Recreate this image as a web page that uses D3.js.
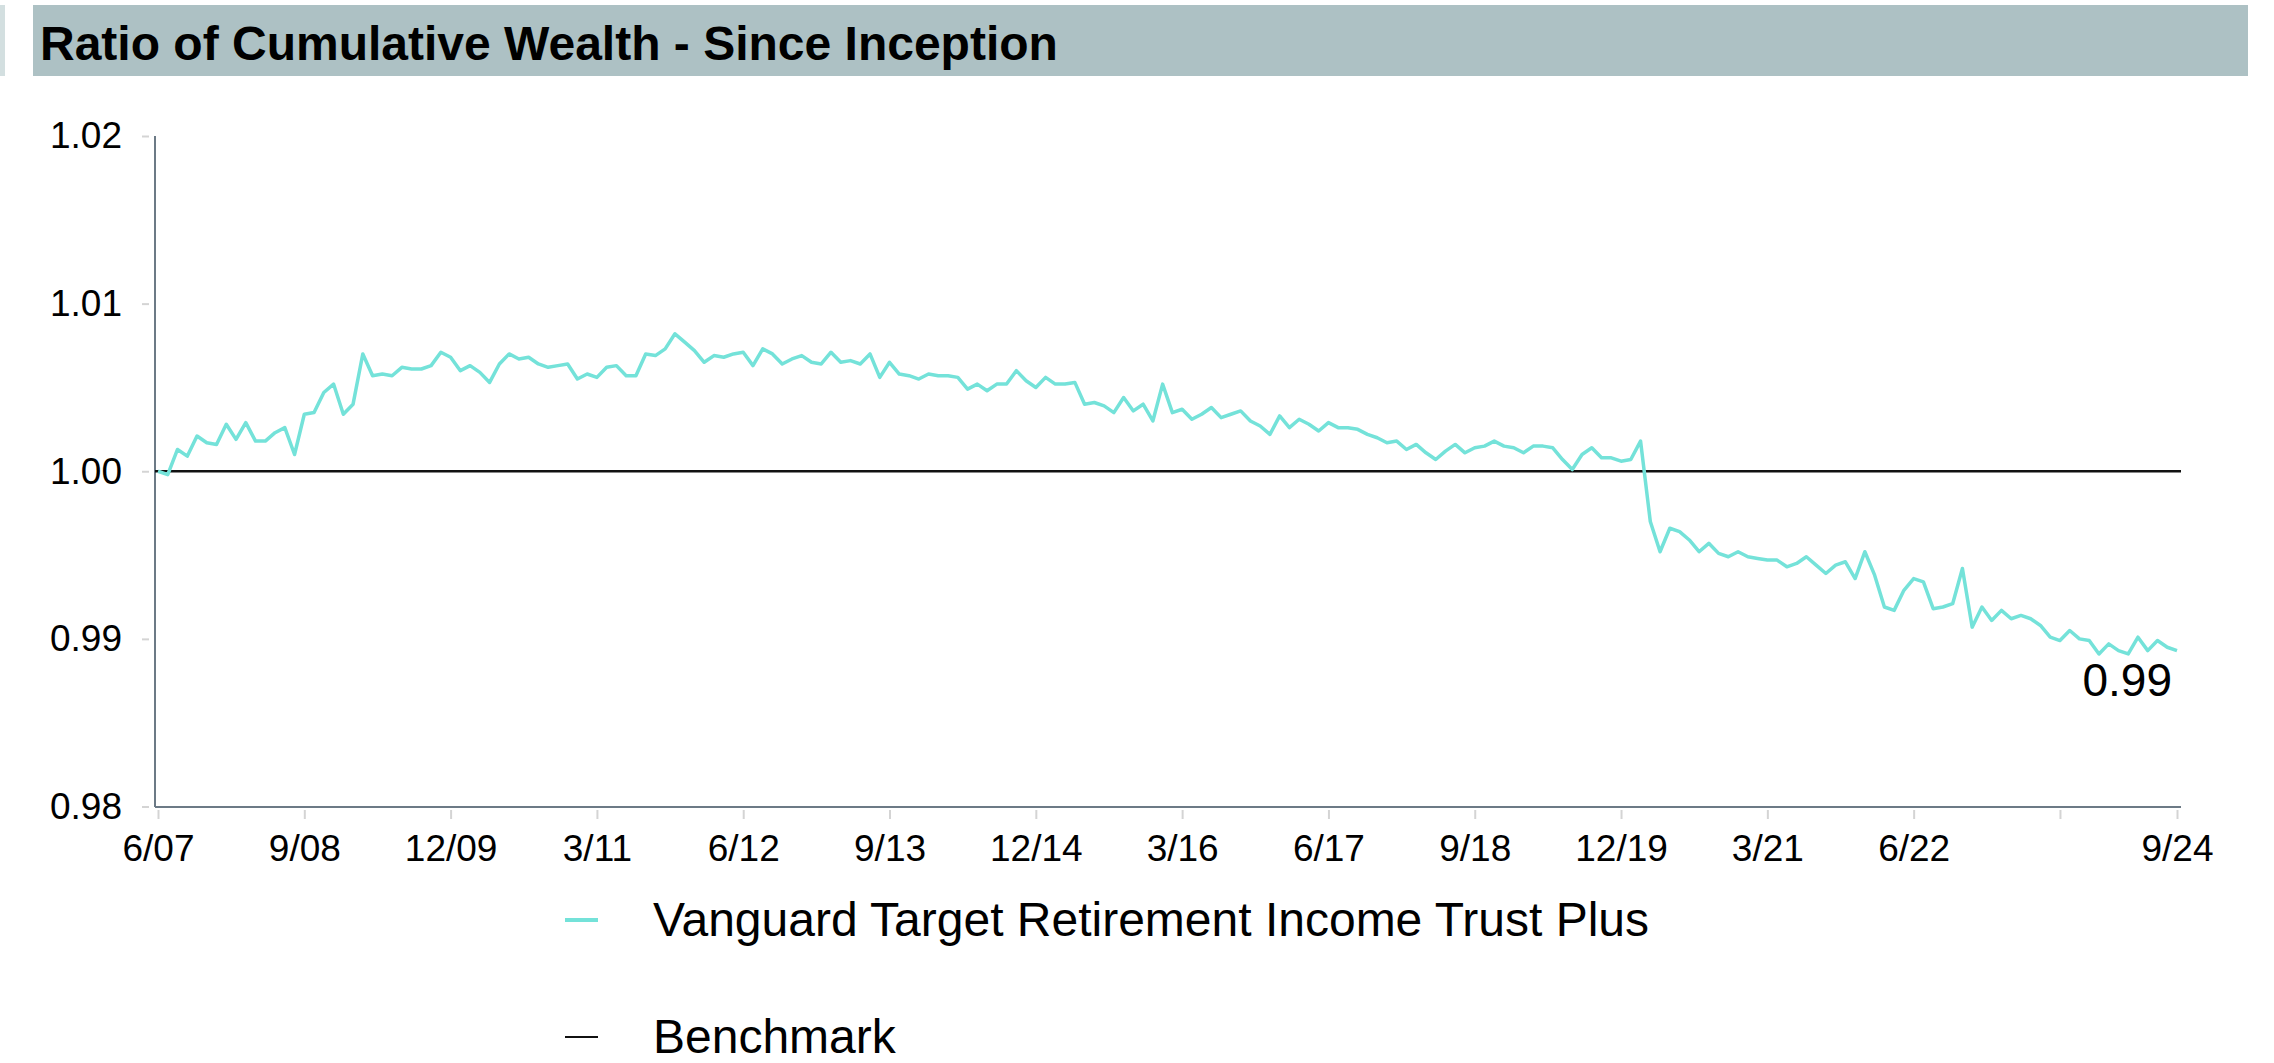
<!DOCTYPE html>
<html>
<head>
<meta charset="utf-8">
<script src="https://cdn.jsdelivr.net/npm/d3@7"></script>
<style>
  body { margin: 0; background: #fff; }
  text { font-family: "Liberation Sans", Arial, Helvetica, sans-serif; }
</style>
</head>
<body>
<div id="chart_area"></div>
<script>
var chartTitle = "Ratio of Cumulative Wealth - Since Inception";
var seriesNames = ["Vanguard Target Retirement Income Trust Plus", "Benchmark"];

// monthly ratio, 6/07 .. 9/24
var fundRatio = [
  1.0000, 0.9998, 1.0013, 1.0009, 1.0021, 1.0017, 1.0016, 1.0028, 1.0019, 1.0029,
  1.0018, 1.0018, 1.0023, 1.0026, 1.0010, 1.0034, 1.0035, 1.0047, 1.0052, 1.0034,
  1.0040, 1.0070, 1.0057, 1.0058, 1.0057, 1.0062, 1.0061, 1.0061, 1.0063, 1.0071,
  1.0068, 1.0060, 1.0063, 1.0059, 1.0053, 1.0064, 1.0070, 1.0067, 1.0068, 1.0064,
  1.0062, 1.0063, 1.0064, 1.0055, 1.0058, 1.0056, 1.0062, 1.0063, 1.0057, 1.0057,
  1.0070, 1.0069, 1.0073, 1.0082, 1.0077, 1.0072, 1.0065, 1.0069, 1.0068, 1.0070,
  1.0071, 1.0063, 1.0073, 1.0070, 1.0064, 1.0067, 1.0069, 1.0065, 1.0064, 1.0071,
  1.0065, 1.0066, 1.0064, 1.0070, 1.0056, 1.0065, 1.0058, 1.0057, 1.0055, 1.0058,
  1.0057, 1.0057, 1.0056, 1.0049, 1.0052, 1.0048, 1.0052, 1.0052, 1.0060, 1.0054,
  1.0050, 1.0056, 1.0052, 1.0052, 1.0053, 1.0040, 1.0041, 1.0039, 1.0035, 1.0044,
  1.0036, 1.0040, 1.0030, 1.0052, 1.0035, 1.0037, 1.0031, 1.0034, 1.0038, 1.0032,
  1.0034, 1.0036, 1.0030, 1.0027, 1.0022, 1.0033, 1.0026, 1.0031, 1.0028, 1.0024,
  1.0029, 1.0026, 1.0026, 1.0025, 1.0022, 1.0020, 1.0017, 1.0018, 1.0013, 1.0016,
  1.0011, 1.0007, 1.0012, 1.0016, 1.0011, 1.0014, 1.0015, 1.0018, 1.0015, 1.0014,
  1.0011, 1.0015, 1.0015, 1.0014, 1.0007, 1.0001, 1.0010, 1.0014, 1.0008, 1.0008,
  1.0006, 1.0007, 1.0018, 0.9970, 0.9952, 0.9966, 0.9964, 0.9959, 0.9952, 0.9957,
  0.9951, 0.9949, 0.9952, 0.9949, 0.9948, 0.9947, 0.9947, 0.9943, 0.9945, 0.9949,
  0.9944, 0.9939, 0.9944, 0.9946, 0.9936, 0.9952, 0.9938, 0.9919, 0.9917, 0.9929,
  0.9936, 0.9934, 0.9918, 0.9919, 0.9921, 0.9942, 0.9907, 0.9919, 0.9911, 0.9917,
  0.9912, 0.9914, 0.9912, 0.9908, 0.9901, 0.9899, 0.9905, 0.9900, 0.9899, 0.9891,
  0.9897, 0.9893, 0.9891, 0.9901, 0.9893, 0.9899, 0.9895, 0.9893
];
var benchmarkRatio = 1.00;
var endLabel = "0.99";

// x ticks: month index from 6/07 and their labels
var tickMonths = [0, 15, 30, 45, 60, 75, 90, 105, 120, 135, 150, 165, 180, 195, 207];
var tickLabels = ["6/07", "9/08", "12/09", "3/11", "6/12", "9/13", "12/14", "3/16",
                  "6/17", "9/18", "12/19", "3/21", "6/22", "", "9/24"];
var yTicks = [0.98, 0.99, 1.00, 1.01, 1.02];

var W = 2274, H = 1063;
var plotLeft = 155, plotRight = 2181, plotTop = 136, plotBottom = 807;

var svg = d3.select("#chart_area")
    .append("svg")
    .attr("width", W)
    .attr("height", H);

// title band
svg.append("rect").attr("x", 0).attr("y", 5).attr("width", 5).attr("height", 71).attr("fill", "#d3dfe0");
svg.append("rect").attr("x", 33).attr("y", 5).attr("width", 2215).attr("height", 71).attr("fill", "#adc1c4");
svg.append("text")
    .attr("x", 40).attr("y", 60)
    .attr("font-size", 48).attr("font-weight", "bold").attr("fill", "#000")
    .text(chartTitle);

var x = d3.scaleLinear()
    .domain([0, fundRatio.length - 1])
    .range([158, 2177]);

var y = d3.scaleLinear()
    .domain([0.98, 1.02])
    .range([806.5, 136]);

// y axis
var yAxis = svg.append("g")
    .attr("transform", "translate(" + plotLeft + ",0)")
    .call(d3.axisLeft(y).tickValues(yTicks).tickFormat(d3.format(".2f")).tickSize(13).tickPadding(20));
yAxis.select(".domain").remove();
yAxis.selectAll(".tick line").attr("stroke", "#d4d4d4").attr("stroke-width", 2).attr("x2", -6).attr("x1", -13);
yAxis.selectAll(".tick text").attr("font-size", 37).attr("fill", "#000").attr("font-family", "Liberation Sans, Arial, sans-serif");

// x axis
var xAxis = svg.append("g")
    .attr("transform", "translate(0," + plotBottom + ")")
    .call(d3.axisBottom(x).tickValues(tickMonths).tickFormat(function(d, i){ return tickLabels[i]; }).tickSize(12).tickPadding(16));
xAxis.select(".domain").remove();
xAxis.selectAll(".tick line").attr("stroke", "#d4d4d4").attr("stroke-width", 2).attr("y1", 3);
xAxis.selectAll(".tick text").attr("font-size", 37).attr("fill", "#000").attr("font-family", "Liberation Sans, Arial, sans-serif");

// axis lines
svg.append("line")
    .attr("x1", plotLeft).attr("x2", plotLeft).attr("y1", plotTop).attr("y2", plotBottom)
    .attr("stroke", "#6c7a86").attr("stroke-width", 2);
svg.append("line")
    .attr("x1", plotLeft).attr("x2", plotRight).attr("y1", plotBottom).attr("y2", plotBottom)
    .attr("stroke", "#6c7a86").attr("stroke-width", 2);

// benchmark
svg.append("line")
    .attr("x1", plotLeft).attr("x2", plotRight)
    .attr("y1", y(benchmarkRatio)).attr("y2", y(benchmarkRatio))
    .attr("stroke", "#111").attr("stroke-width", 2.5);

// fund line
var line = d3.line()
    .x(function(d, i){ return x(i); })
    .y(function(d){ return y(d); });

svg.append("path")
    .datum(fundRatio)
    .attr("d", line)
    .attr("fill", "none")
    .attr("stroke", "#74e2d9")
    .attr("stroke-width", 3.5)
    .attr("stroke-linejoin", "round");

svg.append("text")
    .attr("x", 2172).attr("y", 696)
    .attr("text-anchor", "end")
    .attr("font-size", 46).attr("fill", "#000")
    .text(endLabel);

// legend
var legendColors = ["#74e2d9", "#111"];
var legendWidths = [4, 2];
var legend = svg.selectAll(".legend")
    .data(seriesNames)
    .enter()
    .append("g")
    .attr("transform", function(d, i){ return "translate(565," + (920 + i * 117) + ")"; });
legend.append("line")
    .attr("x1", 0).attr("x2", 33)
    .attr("stroke", function(d, i){ return legendColors[i]; })
    .attr("stroke-width", function(d, i){ return legendWidths[i]; });
legend.append("text")
    .attr("x", 88).attr("y", 16)
    .attr("font-size", 48).attr("fill", "#000")
    .text(function(d){ return d; });
</script>
</body>
</html>
